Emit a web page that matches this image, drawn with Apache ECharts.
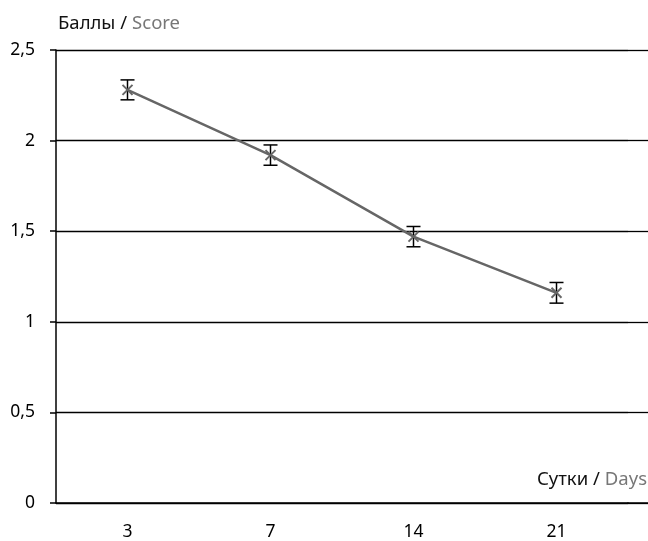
<!DOCTYPE html>
<html>
<head>
<meta charset="utf-8">
<script src="https://cdn.jsdelivr.net/npm/echarts@6/dist/echarts.min.js"></script>
<style>
  html, body { margin: 0; padding: 0; background: #fff; }
  #chart { width: 648px; height: 541px; }
</style>
</head>
<body>
<div id="chart"></div>
<script>
const days = ['3', '7', '14', '21'];
const scores = [2.28, 1.92, 1.47, 1.16];
const errors = [0.055, 0.056, 0.056, 0.057];
const yTicks = [0, 0.5, 1, 1.5, 2, 2.5];

const font = '"Noto Sans", "Open Sans", sans-serif';
let myChart = echarts.init(document.getElementById('chart'));

const nameRich = {
    a: { color: '#111', fontSize: 18.5, fontWeight: 'normal', fontFamily: font },
    b: { color: '#777', fontSize: 18.5, fontWeight: 'normal', fontFamily: font },
};

myChart.setOption({
    animation: false,
    title: [
        {
            text: '{a|Баллы /} {b|Score}',
            left: 53, top: 9,
            textStyle: { rich: nameRich },
        },
        {
            text: '{a|Сутки /} {b|Days}',
            right: -4, top: 465,
            textStyle: { rich: nameRich },
        },
    ],
    grid: [
        { left: 56, right: 20, top: 50, bottom: 38, outerBoundsMode: 'none' },
        // thin strip on the right so the gridlines run to the edge
        { left: 628, right: 0, top: 50, bottom: 38, outerBoundsMode: 'none' },
    ],
    xAxis: [
        {
            type: 'category',
            data: days,
            gridIndex: 0,
            boundaryGap: true,
            axisLine: { lineStyle: { color: '#000', width: 1.5 } },
            axisTick: { length: 7, lineStyle: { color: '#000', width: 1.5 } },
            axisLabel: { color: '#000', fontSize: 17.5, fontFamily: font, margin: 20 },
        },
        {
            type: 'category',
            data: [''],
            gridIndex: 1,
            axisLine: { lineStyle: { color: '#000', width: 1.5 } },
            axisTick: { show: false },
            axisLabel: { show: false },
        },
    ],
    yAxis: [
        {
            type: 'value',
            gridIndex: 0,
            min: yTicks[0],
            max: yTicks[yTicks.length - 1],
            interval: 0.5,
            axisLine: { show: true, lineStyle: { color: '#000', width: 1.5 } },
            axisTick: { show: true, length: 6, lineStyle: { color: '#000', width: 1.5 } },
            axisLabel: {
                color: '#000', fontSize: 17.5, fontFamily: font, margin: 21,
                formatter: (v) => String(v).replace('.', ','),
            },
            splitLine: { show: true, lineStyle: { color: '#000', width: 1.3 } },
        },
        {
            type: 'value',
            gridIndex: 1,
            min: yTicks[0],
            max: yTicks[yTicks.length - 1],
            interval: 0.5,
            axisLine: { show: false },
            axisTick: { show: false },
            axisLabel: { show: false },
            splitLine: { show: true, lineStyle: { color: '#000', width: 1.3 } },
        },
    ],
    series: [
        {
            type: 'line',
            data: scores,
            xAxisIndex: 0,
            yAxisIndex: 0,
            symbol: 'none',
            lineStyle: { color: '#666', width: 2.5 },
            z: 3,
        },
        {
            // error bars and x markers
            type: 'custom',
            xAxisIndex: 0,
            yAxisIndex: 0,
            data: scores.map((s, i) => [i, s, s - errors[i], s + errors[i]]),
            z: 4,
            renderItem: (params, api) => {
                const c = api.coord([api.value(0), api.value(1)]);
                const lo = api.coord([api.value(0), api.value(2)]);
                const hi = api.coord([api.value(0), api.value(3)]);
                const w = 7, m = 5;
                const bar = { stroke: '#000', lineWidth: 1.5 };
                const mk = { stroke: '#666', lineWidth: 2 };
                return {
                    type: 'group',
                    children: [
                        { type: 'line', shape: { x1: c[0], y1: lo[1], x2: c[0], y2: hi[1] }, style: bar },
                        { type: 'line', shape: { x1: c[0] - w, y1: lo[1], x2: c[0] + w, y2: lo[1] }, style: bar },
                        { type: 'line', shape: { x1: c[0] - w, y1: hi[1], x2: c[0] + w, y2: hi[1] }, style: bar },
                        { type: 'line', shape: { x1: c[0] - m, y1: c[1] - m, x2: c[0] + m, y2: c[1] + m }, style: mk },
                        { type: 'line', shape: { x1: c[0] - m, y1: c[1] + m, x2: c[0] + m, y2: c[1] - m }, style: mk },
                    ],
                };
            },
        },
    ],
});
window.addEventListener('resize', () => {
    myChart.resize();
});
</script>
</body>
</html>
